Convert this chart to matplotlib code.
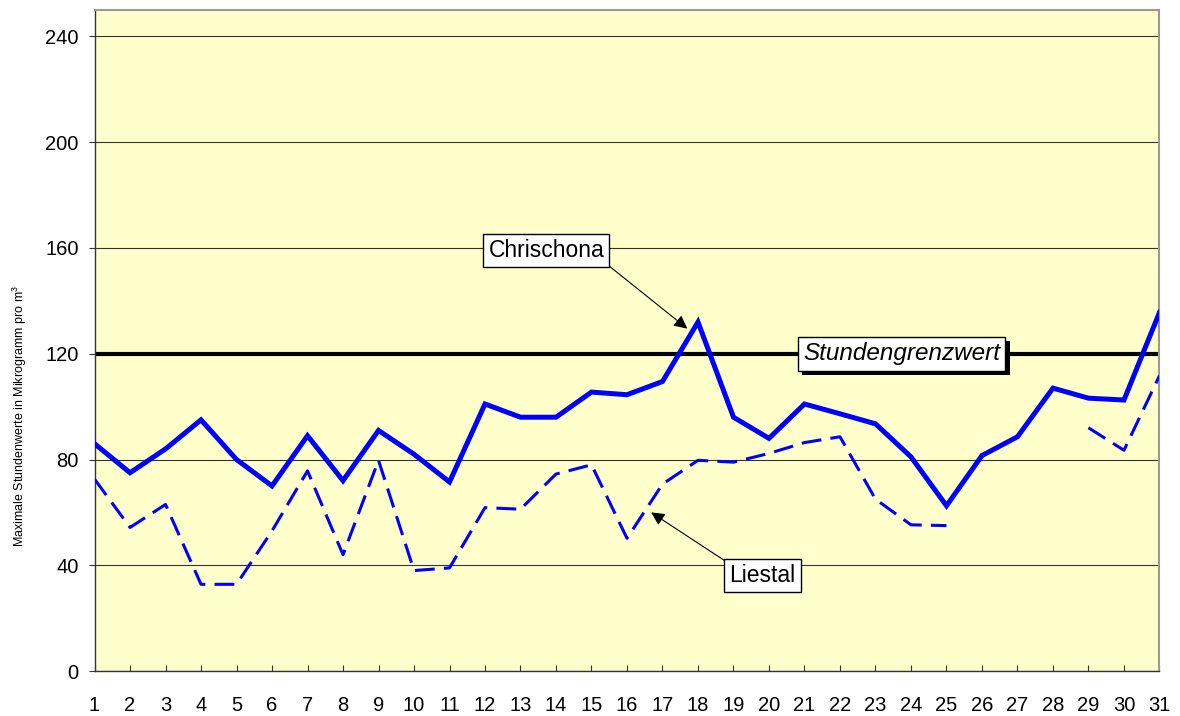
import numpy as np
import matplotlib
matplotlib.use("Agg")
import matplotlib.pyplot as plt
import matplotlib.patheffects as pe

plt.rcParams['font.family'] = ['Liberation Sans', 'DejaVu Sans']
plt.rcParams['mathtext.fontset'] = 'custom'
plt.rcParams['mathtext.rm'] = 'Liberation Sans'
plt.rcParams['mathtext.it'] = 'Liberation Sans:italic'

# days of the month
days = np.arange(1, 32)

# maximum hourly values (microgram per m3)
chrischona = [86, 75, 84, 95, 80, 70, 89, 72, 91, 82, 71.5, 101, 96, 96, 105.5, 104.5,
              109.5, 132, 96, 88, 101, 97.3, 93.5, 81, 62.5, 81.5, 88.6, 107, 103.2, 102.5, 135.6]
liestal = [72.6, 54.3, 63, 32.8, 32.8, 53, 75.7, 44, 79.7, 38, 39, 61.8, 61.2, 74.5, 78, 50.2,
           70.7, 79.7, 79, 82.3, 86.4, 88.6, 65, 55.3, 55, np.nan, np.nan, np.nan, 92, 83.5, 111.7]
grenzwert = 120
yticks = [0, 40, 80, 120, 160, 200, 240]

fig = plt.figure(figsize=(11.8, 7.16), dpi=100)
ax = fig.add_axes([0.0801, 0.0628, 0.9025, 0.9232])
ax.set_facecolor('#FFFFCC')

ax.set_xlim(1, 31)
ax.set_ylim(0, 250)
ax.set_yticks(yticks)
ax.set_xticks(days)
ax.grid(axis='y', color='#333333', lw=0.8)
ax.set_axisbelow(True)

ax.tick_params(axis='y', direction='out', length=4.3, width=0.8, color='#333333',
               labelsize=14.5, pad=7)
ax.tick_params(axis='x', direction='in', length=4.3, width=0.8, color='#333333',
               labelsize=14.5, pad=18)

for s in ['top', 'right']:
    ax.spines[s].set_color('#999999')
    ax.spines[s].set_linewidth(1.5)
for s in ['left', 'bottom']:
    ax.spines[s].set_color('#333333')
    ax.spines[s].set_linewidth(1.0)

ax.axhline(grenzwert, color='black', lw=3, zorder=2)
ax.plot(days, liestal, color='#0000FF', lw=2.2, linestyle=(0, (6.5, 3)), zorder=3)
ax.plot(days, chrischona, color='#0000FF', lw=3.6, solid_joinstyle='miter', zorder=4)

fig.text(20 / 1180, 1 - 415.5 / 716, r'Maximale Stundenwerte in Mikrogramm pro m$^{3}$',
         rotation=90, ha='center', va='center', fontsize=9)

box = dict(boxstyle='square,pad=0.22', fc='white', ec='black', lw=1)
arrow = dict(arrowstyle='-|>', color='black', lw=0.8, mutation_scale=20, shrinkA=0, shrinkB=0)

ax.annotate('Chrischona', xy=(17.70, 129.5), xytext=(13.73, 159),
            ha='center', va='center', fontsize=16.5, bbox=box,
            arrowprops=dict(arrow, relpos=(1, 0)), zorder=6)
ax.annotate('Liestal', xy=(16.68, 60), xytext=(19.82, 36.2),
            ha='center', va='center', fontsize=16.5, bbox=box,
            arrowprops=dict(arrow, relpos=(0, 1)), zorder=6)

t = ax.text(23.73, 120, 'Stundengrenzwert', ha='center', va='center', fontsize=17.5,
            style='italic', zorder=6,
            bbox=dict(boxstyle='square,pad=0.22', fc='white', ec='black', lw=1))
t.get_bbox_patch().set_path_effects([pe.withSimplePatchShadow(offset=(3.2, -3.2),
                                                              shadow_rgbFace='black', alpha=1)])

fig.savefig('out.png', dpi=100)
